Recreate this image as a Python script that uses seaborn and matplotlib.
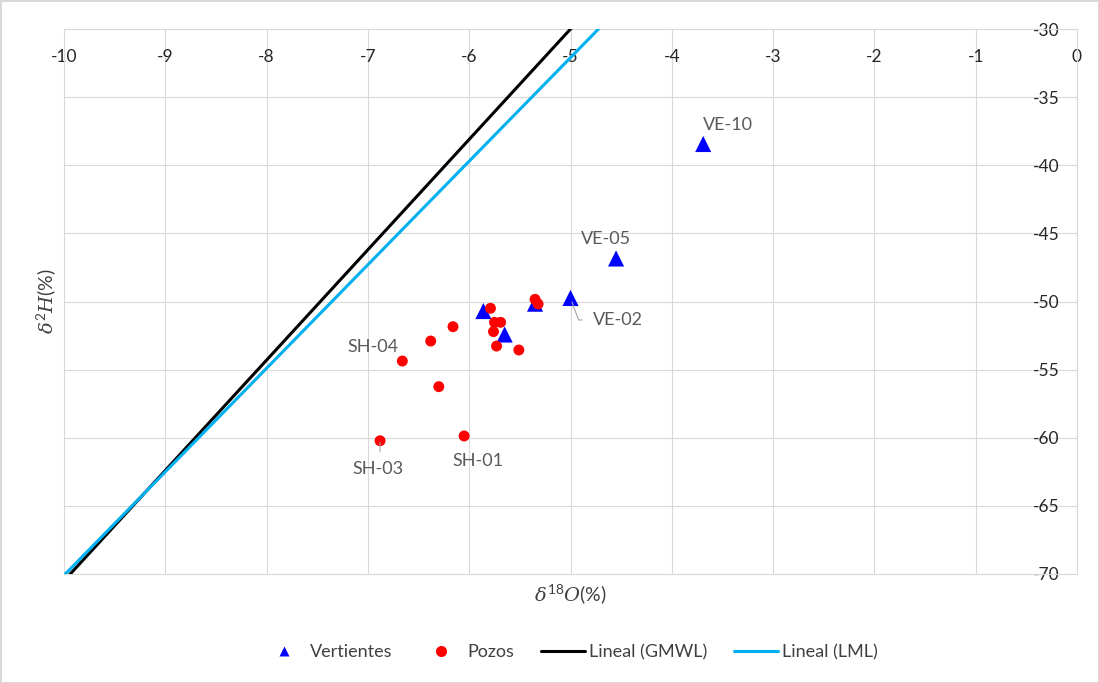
import matplotlib
matplotlib.use("Agg")
import numpy as np
import pandas as pd
import matplotlib.pyplot as plt
from matplotlib.lines import Line2D
import seaborn as sns

# Springs (vertientes): delta-18O and delta-2H
vert_d18o = [-5.86, -5.35, -5.65, -5.00, -4.55, -3.69]
vert_d2h = [-50.70, -50.16, -52.42, -49.74, -46.84, -38.44]
vert_ids = ["", "", "", "VE-02", "VE-05", "VE-10"]

# Wells (pozos)
pozo_d18o = [-5.79, -6.16, -6.38, -5.75, -5.69, -5.76, -5.73, -5.51,
             -5.35, -5.32, -6.30, -6.66, -6.88, -6.05]
pozo_d2h = [-50.50, -51.85, -52.90, -51.53, -51.53, -52.21, -53.27, -53.56,
            -49.84, -50.18, -56.25, -54.37, -60.22, -59.87]
pozo_ids = ["", "", "", "", "", "", "", "", "", "", "", "SH-04", "SH-03", "SH-01"]

# Linear fits (slope, intercept)
gmwl = [8.1, 10.5]
lml = [7.6, 5.9]

x_ticks = list(range(-10, 1))
y_ticks = list(range(-70, -29, 5))

sns.set_style("white")
plt.rcParams["font.family"] = ["Lato", "DejaVu Sans"]
plt.rcParams["mathtext.fontset"] = "custom"
plt.rcParams["mathtext.rm"] = "Lato"
plt.rcParams["mathtext.it"] = "DejaVu Serif:italic"

GRID = "#d9d9d9"
TXT = "#404040"
LBL = "#595959"

fig = plt.figure(figsize=(10.99, 6.83), dpi=100)
fig.patch.set_edgecolor(GRID)
fig.patch.set_linewidth(2)
ax = fig.add_axes([64 / 1099, 1 - 574 / 683, (1077 - 64) / 1099, (574 - 29) / 683])

verts = pd.DataFrame({"d18O": vert_d18o, "d2H": vert_d2h, "id": vert_ids})
pozos = pd.DataFrame({"d18O": pozo_d18o, "d2H": pozo_d2h, "id": pozo_ids})

xs = np.array([-10.5, 0.5])
lines = pd.DataFrame({
    "x": np.concatenate([xs, xs]),
    "y": np.concatenate([gmwl[0] * xs + gmwl[1], lml[0] * xs + lml[1]]),
    "serie": ["GMWL"] * 2 + ["LML"] * 2,
})

sns.scatterplot(data=verts, x="d18O", y="d2H", marker="^", color="#0000FF",
                s=135, edgecolor="none", linewidth=0, ax=ax, zorder=3, legend=False)
sns.scatterplot(data=pozos, x="d18O", y="d2H", marker="o", color="#FF0000",
                s=62, edgecolor="none", linewidth=0, ax=ax, zorder=4, legend=False)
sns.lineplot(data=lines[lines.serie == "GMWL"], x="x", y="y", color="#000000",
             lw=2.2, ax=ax, zorder=5, legend=False)
sns.lineplot(data=lines[lines.serie == "LML"], x="x", y="y", color="#00B0F0",
             lw=2.2, ax=ax, zorder=5, legend=False)

ax.set_xlim(-10, 0)
ax.set_ylim(-70, -30)
ax.set_xticks(x_ticks)
ax.set_yticks(y_ticks)
ax.set_xticklabels([str(v) for v in x_ticks])
ax.set_yticklabels([str(v) for v in y_ticks])
ax.grid(True, color=GRID, lw=0.8)
ax.set_axisbelow(True)
for sp in ax.spines.values():
    sp.set_color(GRID)
    sp.set_linewidth(0.8)

ax.xaxis.set_ticks_position("top")
ax.tick_params(axis="x", length=0, labeltop=True, labelbottom=False,
               pad=-26, labelsize=12.5, labelcolor="#262626")
ax.yaxis.set_ticks_position("right")
ax.tick_params(axis="y", length=0, labelright=True, labelleft=False,
               pad=-32, labelsize=12.5, labelcolor="#262626")

ax.set_xlabel(r"$\delta^{18}O$(%)", fontsize=14, color=TXT, labelpad=6)
ax.xaxis.set_label_position("bottom")
ax.set_ylabel(r"$\delta^{2}H$(%)", fontsize=14, color=TXT, labelpad=4)

# Sample labels, offsets in pixels
offsets = {"VE-10": (25, 19), "VE-05": (-10, 19.5), "VE-02": (47, -22),
           "SH-04": (-29, 14), "SH-03": (-2.5, -28), "SH-01": (13.5, -25.5)}
leaders = {
    "VE-02": dict(arrowstyle="-", color="#a6a6a6", lw=0.8, shrinkA=5, shrinkB=3,
                  relpos=(0, 0.5), connectionstyle="angle,angleA=0,angleB=-70,rad=0"),
    "SH-03": dict(arrowstyle="-", color="#a6a6a6", lw=0.8, shrinkA=4, shrinkB=1,
                  relpos=(0.55, 1)),
}
for df in (verts, pozos):
    for _, r in df[df.id != ""].iterrows():
        ax.annotate(r.id, xy=(r.d18O, r.d2H), xytext=offsets[r.id],
                    textcoords="offset pixels", ha="center", va="center",
                    fontsize=13, color=LBL, arrowprops=leaders.get(r.id), zorder=6)

handles = [
    Line2D([], [], ls="none", marker="^", ms=6.5, color="#0000FF", mec="none"),
    Line2D([], [], ls="none", marker="o", ms=8, color="#FF0000", mec="none"),
    Line2D([], [], color="#000000", lw=2.2),
    Line2D([], [], color="#00B0F0", lw=2.2),
]
fig.legend(handles, ["Vertientes", "Pozos", "Lineal (GMWL)", "Lineal (LML)"],
           loc="center", bbox_to_anchor=(570 / 1099, 1 - 652 / 683), ncol=4,
           frameon=False, fontsize=13, labelcolor=TXT, handlelength=2.4,
           handletextpad=0.25, columnspacing=1.5)

fig.savefig("out.png", dpi=100)
